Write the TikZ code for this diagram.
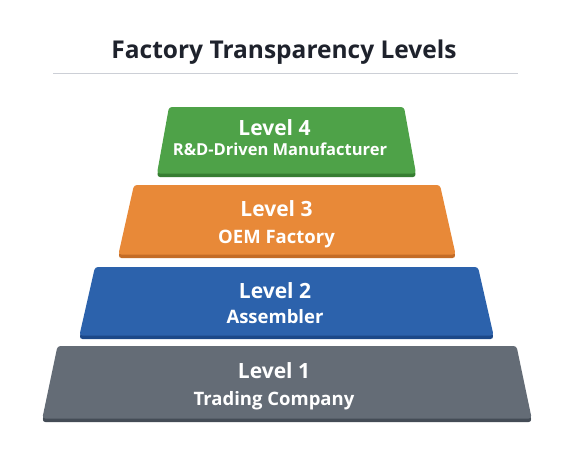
\documentclass[tikz,border=0pt]{standalone}
\usepackage{fontspec}
\setmainfont{Open Sans}
\usepackage{tikz}

\definecolor{titleink}{RGB}{30,34,44}
\definecolor{rulegray}{RGB}{204,207,214}
\definecolor{lvgreen}{RGB}{78,162,72}
\definecolor{lvgreendark}{RGB}{54,126,50}
\definecolor{lvorange}{RGB}{232,137,56}
\definecolor{lvorangedark}{RGB}{196,108,38}
\definecolor{lvblue}{RGB}{44,98,172}
\definecolor{lvbluedark}{RGB}{28,72,136}
\definecolor{lvgray}{RGB}{100,108,118}
\definecolor{lvgraydark}{RGB}{68,76,86}

\begin{document}
\begin{tikzpicture}[x=1pt, y=-1pt,
  lvhead/.style={anchor=base, text=white, font=\bfseries\fontsize{21}{24}\selectfont},
  lvsub/.style={anchor=base, text=white, font=\bfseries\fontsize{18.5}{21}\selectfont},
  slab/.style={rounded corners=3pt}]
  \useasboundingbox[fill=white] (0,0) rectangle (576,455);
  % title
  \node[anchor=base, text=titleink, font=\bfseries\fontsize{24.5}{28}\selectfont] (title) at (284,58) {Factory Transparency Levels};
  \draw[rulegray, line width=1.5pt] (53,73.5) -- (518,73.5);
  % level 4
  \fill[slab, lvgreendark, yshift=-3.5pt] (169,107) -- (404,107) -- (416,173.5) -- (157,173.5) -- cycle;
  \fill[slab, lvgreen] (169,107) -- (404,107) -- (416,173.5) -- (157,173.5) -- cycle;
  \node[lvhead] (lv4) at (274.5,135.5) {Level 4};
  \node[lvsub, font=\bfseries\fontsize{16.5}{19}\selectfont] (sub4) at (280,155.5) {R\&D-Driven Manufacturer};
  % level 3
  \fill[slab, lvorangedark, yshift=-3.5pt] (134,185) -- (440,185) -- (455.6,254.5) -- (118.4,254.5) -- cycle;
  \fill[slab, lvorange] (134,185) -- (440,185) -- (455.6,254.5) -- (118.4,254.5) -- cycle;
  \node[lvhead] (lv3) at (276.5,216.7) {Level 3};
  \node[lvsub] (sub3) at (276.5,243) {OEM Factory};
  % level 2
  \fill[slab, lvbluedark, yshift=-3.5pt] (95,267) -- (478,267) -- (493.6,335.5) -- (79.4,335.5) -- cycle;
  \fill[slab, lvblue] (95,267) -- (478,267) -- (493.6,335.5) -- (79.4,335.5) -- cycle;
  \node[lvhead] (lv2) at (275,298) {Level 2};
  \node[lvsub] (sub2) at (275,323) {Assembler};
  % level 1
  \fill[slab, lvgraydark, yshift=-3.5pt] (57.5,346) -- (516.5,346) -- (531.7,418.5) -- (42.3,418.5) -- cycle;
  \fill[slab, lvgray] (57.5,346) -- (516.5,346) -- (531.7,418.5) -- (42.3,418.5) -- cycle;
  \node[lvhead] (lv1) at (274,378.7) {Level 1};
  \node[lvsub] (sub1) at (274,405) {Trading Company};
\end{tikzpicture}
\end{document}
